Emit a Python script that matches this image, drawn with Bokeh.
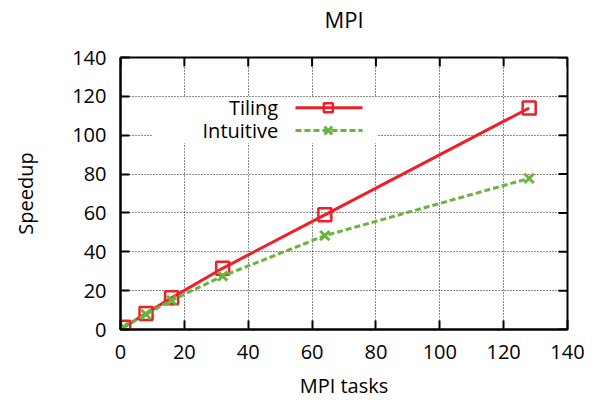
import math
from bokeh.plotting import figure
from bokeh.models import Range1d, FixedTicker, BoxAnnotation, Label, LinearAxis
from bokeh.embed import file_html
from bokeh.resources import INLINE

# ---- data ----
tasks = [1, 8, 16, 32, 64, 128]
tiling = [1.2, 8.2, 16.3, 31.5, 59.0, 114.0]
intuitive = [1.2, 7.8, 15.0, 27.5, 48.3, 77.8]
series_names = ["Tiling", "Intuitive"]
x_ticks = [0, 20, 40, 60, 80, 100, 120, 140]
y_ticks = [0, 20, 40, 60, 80, 100, 120, 140]
title_text = "MPI"
x_label = "MPI tasks"
y_label = "Speedup"

# ---- style ----
FONT = "Open Sans"
RED = "#ee1f26"
GREEN = "#68b43c"
FS = "20px"

p = figure(width=599, height=402, output_backend="svg", toolbar_location=None,
           x_range=Range1d(x_ticks[0], x_ticks[-1]), y_range=Range1d(y_ticks[0], y_ticks[-1]),
           min_border_left=120, min_border_right=32, min_border_top=53, min_border_bottom=73)

p.outline_line_color = "black"
p.outline_line_width = 2
p.outline_line_alpha = 1

bottom_axis = p.below[0]
left_axis = p.left[0]

for ax, ticks in [(bottom_axis, x_ticks), (left_axis, y_ticks)]:
    ax.ticker = FixedTicker(ticks=ticks)
    ax.major_tick_in = 9
    ax.major_tick_out = 0
    ax.minor_tick_in = 0
    ax.minor_tick_out = 0
    ax.major_tick_line_width = 2
    ax.axis_line_width = 2
    ax.major_label_text_font = FONT
    ax.major_label_text_font_size = FS
    ax.major_label_text_color = "black"
    ax.axis_label_text_font = FONT
    ax.axis_label_text_font_size = FS
    ax.axis_label_text_font_style = "normal"
    ax.axis_label_text_color = "black"

bottom_axis.axis_label = x_label
left_axis.axis_label = y_label
bottom_axis.major_label_standoff = 15
bottom_axis.axis_label_standoff = 10
left_axis.major_label_standoff = 14
left_axis.axis_label_standoff = 30

# title: label of a tick-less axis above the frame
top_axis = LinearAxis(ticker=FixedTicker(ticks=[]), axis_label=title_text,
                      axis_line_color=None, major_tick_in=0, major_tick_out=0,
                      minor_tick_in=0, minor_tick_out=0, major_label_standoff=0,
                      axis_label_text_font=FONT, axis_label_text_font_size="22px",
                      axis_label_text_font_style="normal", axis_label_text_color="black",
                      axis_label_standoff=24)
p.add_layout(top_axis, "above")

# mirrored inward ticks on the right and top borders
p.ray(x=[x_ticks[-1]] * len(y_ticks), y=y_ticks, length=9, length_units="screen",
      angle=math.pi, line_color="black", line_width=2)
p.ray(x=x_ticks, y=[y_ticks[-1]] * len(x_ticks), length=9, length_units="screen",
      angle=-math.pi / 2, line_color="black", line_width=2)

for g, ticks in [(p.xgrid[0], x_ticks), (p.ygrid[0], y_ticks)]:
    g.ticker = FixedTicker(ticks=ticks[1:-1])
    g.grid_line_color = "black"
    g.grid_line_dash = "1 2"
    g.grid_line_width = 1
    g.grid_line_alpha = 0.9

# ---- series ----
p.line(tasks, tiling, line_color=RED, line_width=3)
p.scatter(tasks, tiling, marker="square", size=13, fill_color=None,
          line_color=RED, line_width=2.5)
p.line(tasks, intuitive, line_color=GREEN, line_width=3, line_dash="6 3")
p.scatter(tasks, intuitive, marker="x", size=13, line_color=GREEN, line_width=3)

# ---- key (gnuplot style: text then sample) ----
key_box = BoxAnnotation(left=9.9, right=80.5, bottom=95.8, top=119.6,
                        fill_color="white", fill_alpha=1.0, line_color=None,
                        level="underlay")
p.add_layout(key_box)

key_y = [114.1, 102.4]
for name, ky, col, dash, mk, msz in [
        (series_names[0], key_y[0], RED, "solid", "square", 9),
        (series_names[1], key_y[1], GREEN, "6 3", "x", 11)]:
    p.add_layout(Label(x=49.4, y=ky, text=name, text_align="right",
                       text_baseline="middle", text_font=FONT,
                       text_font_size=FS, text_color="black"))
    p.line([54.8, 75.8], [ky, ky], line_color=col, line_width=3, line_dash=dash)
    if mk == "square":
        p.scatter([65.1], [ky], marker=mk, size=msz, fill_color=None,
                  line_color=col, line_width=2.5)
    else:
        p.scatter([65.1], [ky], marker=mk, size=msz, line_color=col, line_width=3)

open("out.html", "w").write(file_html(p, INLINE))
